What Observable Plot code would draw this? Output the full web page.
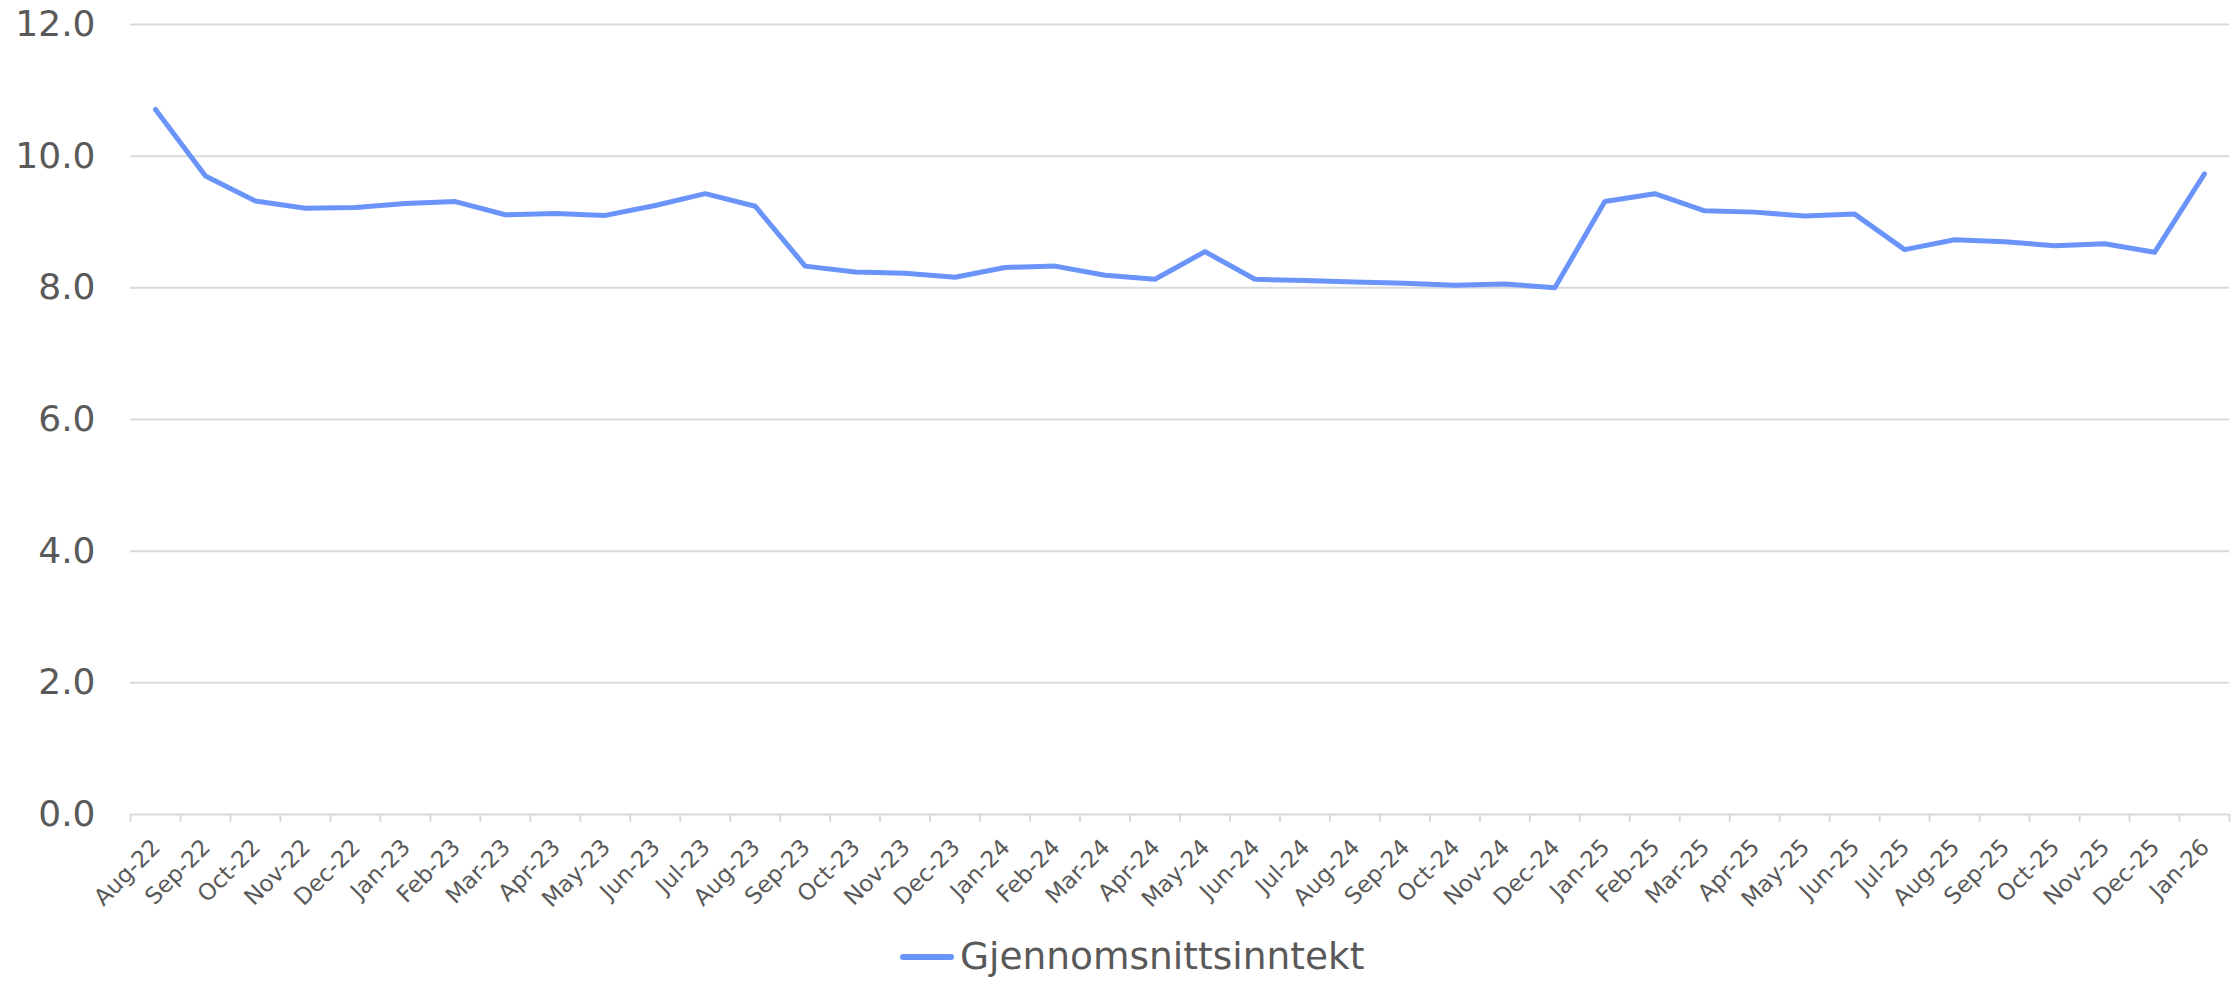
<!DOCTYPE html>
<html>
<head>
<meta charset="utf-8">
<script src="https://cdn.jsdelivr.net/npm/d3@7"></script>
<script src="https://cdn.jsdelivr.net/npm/@observablehq/plot@0.6"></script>
<style>
  html, body { margin: 0; padding: 0; background: #ffffff; }
  body { width: 2239px; height: 988px; overflow: hidden; font-family: "DejaVu Sans", Verdana, sans-serif; }
  #chart svg { display: block; }
  #legend { height: 63px; display: flex; align-items: center; justify-content: flex-start; padding-left: 900px; box-sizing: border-box; }
  #legend .sw { width: 54px; height: 6px; border-radius: 3px; background: #6b94fb; margin-right: 6px; }
  #legend .lbl { font-size: 37.5px; color: #595959; line-height: 1; }
</style>
</head>
<body>
<div id="chart"></div>
<div id="legend"><span class="sw"></span><span class="lbl"></span></div>
<script>
const months = ["Aug-22","Sep-22","Oct-22","Nov-22","Dec-22","Jan-23","Feb-23","Mar-23","Apr-23","May-23","Jun-23","Jul-23","Aug-23","Sep-23","Oct-23","Nov-23","Dec-23","Jan-24","Feb-24","Mar-24","Apr-24","May-24","Jun-24","Jul-24","Aug-24","Sep-24","Oct-24","Nov-24","Dec-24","Jan-25","Feb-25","Mar-25","Apr-25","May-25","Jun-25","Jul-25","Aug-25","Sep-25","Oct-25","Nov-25","Dec-25","Jan-26"];
const values = [10.71,9.70,9.32,9.21,9.22,9.28,9.31,9.11,9.13,9.10,9.25,9.43,9.24,8.33,8.24,8.22,8.16,8.31,8.33,8.19,8.13,8.55,8.13,8.11,8.09,8.07,8.04,8.06,8.00,9.31,9.43,9.17,9.15,9.09,9.12,8.58,8.73,8.70,8.64,8.67,8.54,9.73];
const yTicks = [0, 2, 4, 6, 8, 10, 12];
const seriesName = "Gjennomsnittsinntekt";

const data = months.map((m, i) => ({ i, month: m, value: values[i] }));
const indices = months.map((_, i) => i);
const boundaries = [...indices.map(i => i - 0.5), months.length - 0.5];

const lineColor = "#6b94fb";
const gridColor = "#d9d9d9";
const textColor = "#595959";

const chart = Plot.plot({
  width: 2239,
  height: 925,
  marginLeft: 130,
  marginRight: 10,
  marginTop: 24,
  marginBottom: 111,
  style: { fontFamily: "'DejaVu Sans', Verdana, sans-serif", color: textColor, background: "#ffffff", overflow: "visible" },
  x: { type: "linear", domain: [-0.5, months.length - 0.5] },
  y: { domain: [0, 12] },
  marks: [
    Plot.ruleY(yTicks, { stroke: gridColor, strokeWidth: 2 }),
    Plot.axisX(boundaries, { tickSize: 8, tickFormat: () => "", label: null, stroke: gridColor, strokeWidth: 2, strokeOpacity: 1 }),
    Plot.axisY(yTicks, { tickSize: 0, tickPadding: 35, fontSize: 36, label: null, tickFormat: d => d.toFixed(1), fill: textColor }),
    Plot.text(indices, { x: d => d, frameAnchor: "bottom", text: i => months[i], rotate: -45, textAnchor: "end", lineAnchor: "middle", dy: 29, dx: 1, fontSize: 23, fill: textColor }),
    Plot.line(data, { x: "i", y: "value", stroke: lineColor, strokeWidth: 5, strokeLinecap: "round", strokeLinejoin: "round" })
  ]
});
document.getElementById("chart").appendChild(chart);
document.querySelector("#legend .lbl").textContent = seriesName;
</script>
</body>
</html>
